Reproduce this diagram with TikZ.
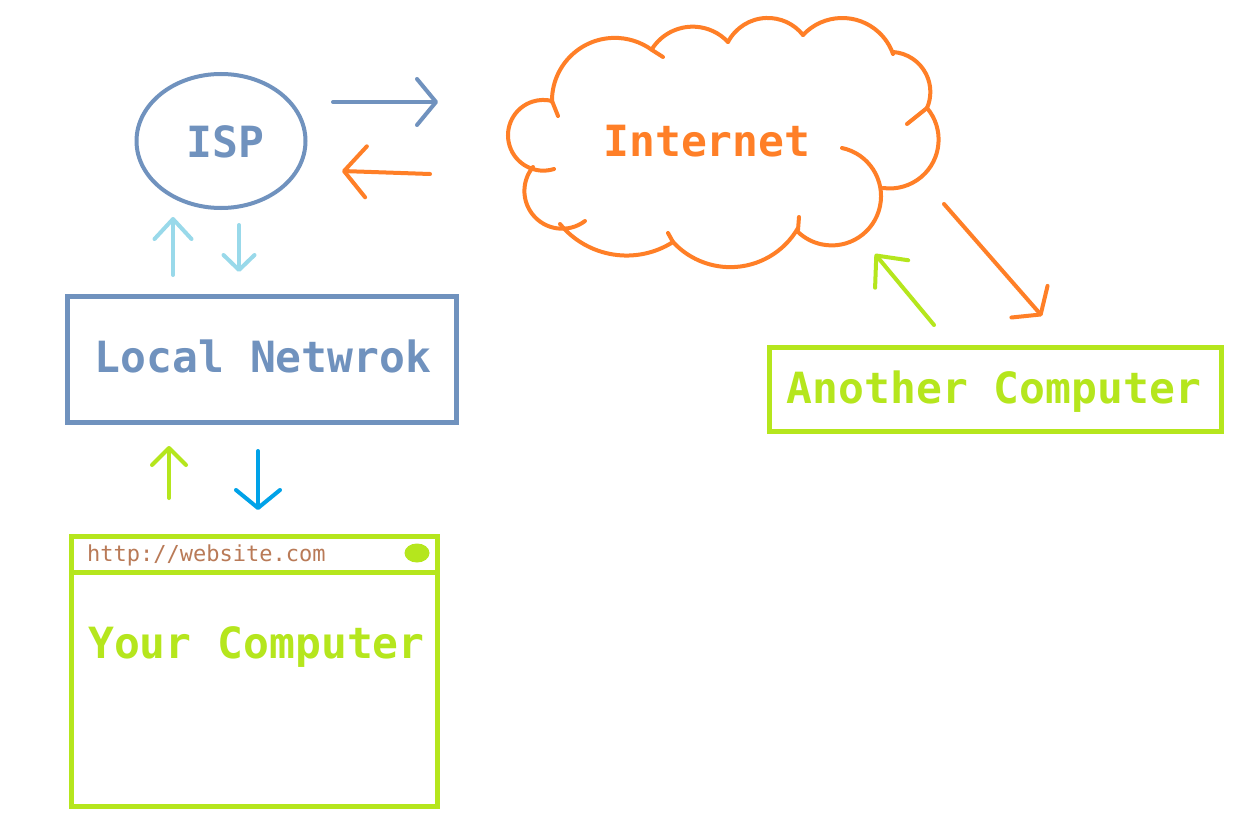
\documentclass[tikz,border=0pt]{standalone}
\usepackage{fontspec}
\setmonofont{DejaVu Sans Mono}
\usetikzlibrary{arrows.meta,shapes.geometric}
\definecolor{steel}{HTML}{7092BE}
\definecolor{orng}{HTML}{FF7F27}
\definecolor{lblue}{HTML}{99D9EA}
\definecolor{tblue}{HTML}{00A2E8}
\definecolor{limeg}{HTML}{B5E61D}
\definecolor{urlbrown}{HTML}{B97A57}
\tikzset{
  big/.style={font=\ttfamily\bfseries\fontsize{43}{50}\selectfont, inner sep=0pt},
  boxed/.style={draw, line width=5pt, rectangle, inner sep=0pt},
  arr/.style={line width=4pt, line cap=round, line join=round},
  cloudline/.style={draw=orng, line width=4pt, line cap=round},
}
% arc of a circle from point 1 through point 2 to point 3 (picture coordinates, y down)
\newcommand\cloudarc[6]{%
  \edef\pAx{\fpeval{#1}}\edef\pAy{\fpeval{-(#2)}}%
  \edef\pBx{\fpeval{#3}}\edef\pBy{\fpeval{-(#4)}}%
  \edef\pCx{\fpeval{#5}}\edef\pCy{\fpeval{-(#6)}}%
  \edef\sA{\fpeval{(\pAx)^2+(\pAy)^2}}%
  \edef\sB{\fpeval{(\pBx)^2+(\pBy)^2}}%
  \edef\sC{\fpeval{(\pCx)^2+(\pCy)^2}}%
  \edef\dD{\fpeval{2*((\pAx)*((\pBy)-(\pCy))+(\pBx)*((\pCy)-(\pAy))+(\pCx)*((\pAy)-(\pBy)))}}%
  \edef\uX{\fpeval{((\sA)*((\pBy)-(\pCy))+(\sB)*((\pCy)-(\pAy))+(\sC)*((\pAy)-(\pBy)))/(\dD)}}%
  \edef\uY{\fpeval{((\sA)*((\pCx)-(\pBx))+(\sB)*((\pAx)-(\pCx))+(\sC)*((\pBx)-(\pAx)))/(\dD)}}%
  \edef\rR{\fpeval{round(sqrt(((\pAx)-(\uX))^2+((\pAy)-(\uY))^2),3)}}%
  \edef\aA{\fpeval{atand((\pAy)-(\uY),(\pAx)-(\uX))}}%
  \edef\aB{\fpeval{atand((\pBy)-(\uY),(\pBx)-(\uX))}}%
  \edef\aC{\fpeval{atand((\pCy)-(\uY),(\pCx)-(\uX))}}%
  \edef\dAC{\fpeval{(\aC)-(\aA)-360*floor(((\aC)-(\aA))/360)}}%
  \edef\dAB{\fpeval{(\aB)-(\aA)-360*floor(((\aB)-(\aA))/360)}}%
  \edef\aEnd{\fpeval{round(((\dAB)<(\dAC)) ? (\aA)+(\dAC) : (\aA)+(\dAC)-360,3)}}%
  \edef\aStart{\fpeval{round(\aA,3)}}%
  \draw[cloudline] (#1,#2) arc[start angle=\aStart, end angle=\aEnd, radius=\rR pt];%
}
\begin{document}
\begin{tikzpicture}[x=1pt,y=-1pt]
\useasboundingbox[fill=white] (0,0) rectangle (1250,832);

% ISP
\node[ellipse, draw=steel, line width=4pt, minimum width=169pt, minimum height=134pt, inner sep=0pt] (ispshape) at (221,141) {};
\node[big, text=steel, anchor=base] (isp) at (225.5,157.5) {ISP};

% Local network
\node[boxed, draw=steel, minimum width=389pt, minimum height=126pt] (localbox) at (261.5,359) {};
\node[big, text=steel, anchor=base] (local) at (263,372) {Local Netwrok};

% Your computer
\node[boxed, draw=limeg, minimum width=366pt, minimum height=270pt] (pcbox) at (254,671) {};
\coordinate (barL) at (71,572);
\coordinate (barR) at (437,572);
\draw[limeg, line width=5pt] (barL) -- (barR);
\node[font=\ttfamily\fontsize{22}{26}\selectfont, text=urlbrown, anchor=base west, inner sep=0pt] (url) at (87,561.5) {http://website.com};
\node[ellipse, fill=limeg, minimum width=25pt, minimum height=19pt, inner sep=0pt] (dot) at (417,553) {};
\node[big, text=limeg, anchor=base west] (yourpc) at (88,658) {Your Computer};

% Another computer
\node[boxed, draw=limeg, minimum width=452pt, minimum height=84pt] (otherbox) at (995,389) {};
\node[big, text=limeg, anchor=base] (other) at (994,403) {Another Computer};

% Internet cloud
\node[big, text=orng, anchor=base] (internet) at (707,157) {Internet};
\cloudarc{554}{169}{508}{135}{552}{101}
\draw[cloudline] (552,101) -- (558,116);
\cloudarc{552}{102}{590}{43}{652}{50}
\draw[cloudline] (652,50) -- (663,57);
\cloudarc{652}{49}{687}{27}{728}{42}
\cloudarc{728}{42}{770}{18}{803}{35}
\cloudarc{803}{35}{843}{18}{893}{54}
\cloudarc{893}{52}{925}{72}{927}{108}
\draw[cloudline] (927,108) -- (907,124);
\cloudarc{927}{108}{937}{152}{883}{188}
\cloudarc{842}{148}{881}{195}{798}{232}
\draw[cloudline] (799,217) -- (798,230);
\cloudarc{798}{228}{735}{267}{673}{242}
\draw[cloudline] (668,233) -- (673,242);
\cloudarc{673}{242}{617}{255}{560}{224}
\cloudarc{585}{221}{529}{209}{533}{167}

% arrow end points
\coordinate (a1s) at (333,102);  \coordinate (a1e) at (438,102);
\coordinate (a2s) at (430,174);  \coordinate (a2e) at (342,171);
\coordinate (a3s) at (173,275);  \coordinate (a3e) at (173,217);
\coordinate (a4s) at (239,225);  \coordinate (a4e) at (239,272);
\coordinate (a5s) at (169,498);  \coordinate (a5e) at (169,446);
\coordinate (a6s) at (258,451);  \coordinate (a6e) at (258,510);
\coordinate (a7s) at (934,325);  \coordinate (a7e) at (875,254);
\coordinate (a8s) at (944,204);  \coordinate (a8e) at (1042,316);

\draw[arr, steel, -{Straight Barb[length=19pt,width=46pt,round]}] (a1s) -- (a1e);
\draw[arr, orng, -{Straight Barb[length=22pt,width=51pt,round]}] (a2s) -- (a2e);
\draw[arr, lblue, -{Straight Barb[length=20pt,width=37pt,round]}] (a3s) -- (a3e);
\draw[arr, lblue, -{Straight Barb[length=15pt,width=31pt,round]}] (a4s) -- (a4e);
\draw[arr, limeg, -{Straight Barb[length=17pt,width=34pt,round]}] (a5s) -- (a5e);
\draw[arr, tblue, -{Straight Barb[length=18pt,width=44pt,round]}] (a6s) -- (a6e);
\draw[arr, limeg, -{Straight Barb[length=24pt,width=43pt,round]}] (a7s) -- (a7e);
\draw[arr, orng, -{Straight Barb[length=17pt,width=48pt,round]}] (a8s) -- (a8e);
\end{tikzpicture}
\end{document}
